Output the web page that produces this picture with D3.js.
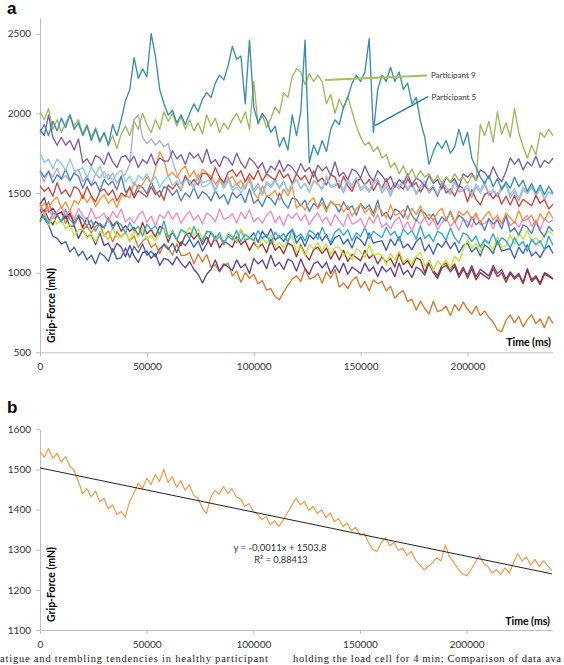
<!DOCTYPE html>
<html><head><meta charset="utf-8">
<script src="https://cdn.jsdelivr.net/npm/d3@7"></script>
<style>body{margin:0;background:#fff}svg{display:block}</style>
</head><body>
<script>
// ---------------- DATA ----------------
const timeMaxMs = 240000;
const xTicks = [0, 50000, 100000, 150000, 200000];
const yTicksA = [500, 1000, 1500, 2000, 2500];
const yTicksB = [1100, 1200, 1300, 1400, 1500, 1600];

// Panel a – grip force traces (mN), 121 samples evenly spaced over 0–240000 ms
const participant5 = [1880,1930,1860,1950,1890,1970,1910,1990,1900,1940,
1860,1920,1830,1900,1820,1880,1800,1930,1860,1960,
2080,2150,2350,2220,2280,2230,2500,2360,2150,2060,
1990,2020,1940,1990,1930,2000,2060,2010,2090,2130,
2100,2190,2240,2210,2300,2420,2340,2360,2060,2460,
2040,1940,2000,1960,1880,1920,1790,1850,1770,1990,
1860,2010,2460,1690,1800,1740,1830,1760,1900,1960,
1930,2040,2100,2190,2240,2200,2260,2470,1880,2150,
2240,2200,2290,2200,2260,2150,2190,2060,2100,1950,
1850,1680,1760,1820,1780,1830,1750,1790,1900,1800,
1880,1720,1660,1600,1560,1610,1540,1590,1520,1570,
1530,1600,1540,1580,1510,1560,1500,1550,1490,1540,
1500];
const participant9 = [2010,1960,2030,1900,1960,1880,1940,1990,1920,1960,
1870,1930,1850,1910,1830,1880,1800,1860,1780,1870,
1920,1860,1950,1900,2000,1930,1880,1960,1900,2010,
1950,2000,1920,1980,1900,1960,1890,1940,1870,1990,
1920,1970,1880,1940,1900,1960,2000,1940,2010,1900,
2200,1930,1990,1910,1970,2040,2000,2130,2100,2230,
2280,2260,2180,2250,2200,2240,2200,2060,2120,2000,
2090,2030,2110,2010,1920,1850,1800,1820,1760,1790,
1720,1740,1660,1690,1620,1670,1600,1650,1590,1640,
1600,1620,1570,1610,1560,1600,1570,1620,1580,1600,
1560,1610,1580,1930,1860,1950,1820,2010,1870,1940,
1850,2030,1880,1790,1720,1800,1740,1880,1850,1900,
1860];
const lightBlueTrace = [1755,1692,1714,1651,1713,1685,1642,1714,1641,1643,
1660,1596,1662,1618,1669,1595,1616,1577,1623,1644,
1570,1607,1544,1611,1583,1620,1567,1604,1536,1578,
1605,1548,1576,1519,1587,1565,1528,1606,1539,1547,
1570,1508,1576,1534,1587,1515,1538,1501,1549,1572,
1500,1542,1484,1556,1533,1575,1527,1569,1506,1553,
1585,1531,1562,1508,1579,1560,1526,1607,1543,1554,
1580,1519,1588,1547,1601,1530,1554,1518,1567,1591,
1520,1559,1498,1567,1541,1580,1529,1568,1502,1546,
1575,1519,1548,1492,1561,1540,1504,1583,1517,1526,
1550,1489,1558,1517,1571,1500,1524,1488,1537,1561,
1490,1528,1466,1534,1507,1545,1493,1531,1464,1507,
1500];
const purpleTrace = [1900,1860,1990,1850,1800,1850,1800,1830,1770,1840,
1690,1715,1670,1735,1720,1680,1755,1695,1660,1725,
1735,1695,1730,1660,1710,1685,1745,1675,1720,1700,
1700,1765,1715,1740,1680,1755,1720,1745,1690,1775,
1685,1710,1665,1730,1715,1675,1750,1690,1655,1720,
1695,1655,1690,1620,1670,1645,1705,1635,1680,1660,
1620,1685,1635,1660,1600,1675,1640,1665,1610,1695,
1605,1630,1585,1650,1635,1595,1670,1610,1575,1640,
1610,1570,1605,1535,1585,1560,1620,1550,1595,1575,
1545,1610,1560,1585,1525,1600,1565,1590,1535,1620,
1600,1625,1580,1645,1630,1590,1665,1605,1570,1635,
1720,1680,1715,1645,1695,1670,1730,1660,1705,1685,
1720];
const lavenderTrace = [1630,1570,1640,1600,1655,1585,1610,1575,1625,1650,
1570,1610,1550,1620,1595,1635,1585,1625,1560,1605,
1620,1680,1960,1990,1850,1810,1840,1800,1830,1790,
1810,1700,1620,1555,1600,1575,1545,1620,1565,1575,
1580,1520,1590,1550,1605,1535,1560,1525,1575,1600,
1520,1560,1500,1570,1545,1585,1535,1575,1510,1555,
1585,1530,1560,1505,1575,1555,1520,1600,1535,1545,
1560,1500,1570,1530,1585,1515,1540,1505,1555,1580,
1500,1540,1480,1550,1525,1565,1515,1555,1490,1535,
1555,1500,1530,1475,1545,1525,1490,1570,1505,1515,
1530,1470,1540,1500,1555,1485,1510,1475,1525,1550,
1470,1510,1450,1520,1495,1535,1485,1525,1460,1505,
1490];
const redTrace = [1545,1510,1535,1480,1565,1495,1520,1475,1540,1525,
1465,1540,1480,1445,1510,1525,1485,1520,1450,1500,
1480,1540,1470,1515,1495,1475,1540,1490,1515,1455,
1550,1525,1560,1515,1610,1550,1585,1550,1625,1620,
1585,1660,1600,1565,1630,1645,1605,1640,1570,1620,
1585,1645,1575,1620,1600,1580,1645,1595,1620,1560,
1620,1585,1610,1555,1640,1570,1595,1550,1615,1600,
1530,1605,1545,1510,1575,1590,1550,1585,1515,1565,
1530,1590,1520,1565,1545,1525,1590,1540,1565,1505,
1550,1515,1540,1485,1570,1500,1525,1480,1545,1530,
1445,1520,1460,1425,1490,1505,1465,1500,1430,1480,
1425,1485,1415,1460,1440,1420,1485,1435,1460,1400,
1430];
const orangeTrace = [1410,1435,1400,1450,1475,1405,1445,1385,1455,1430,
1490,1440,1480,1415,1460,1490,1435,1465,1410,1480,
1485,1470,1570,1525,1555,1600,1560,1650,1760,1705,
1605,1630,1595,1645,1670,1600,1640,1580,1650,1625,
1605,1555,1595,1530,1575,1605,1550,1580,1525,1595,
1500,1465,1545,1480,1490,1515,1455,1525,1485,1540,
1405,1430,1395,1445,1470,1400,1440,1380,1450,1425,
1430,1380,1420,1355,1400,1430,1375,1405,1350,1420,
1380,1345,1425,1360,1370,1395,1335,1405,1365,1420,
1340,1365,1330,1380,1405,1335,1375,1315,1385,1360,
1385,1335,1375,1310,1355,1385,1330,1360,1305,1375,
1345,1310,1390,1325,1335,1360,1300,1370,1330,1385,
1340];
const blueTrace = [1640,1600,1635,1565,1615,1590,1650,1580,1625,1605,
1530,1595,1545,1570,1510,1585,1550,1575,1520,1605,
1505,1530,1485,1550,1535,1495,1570,1510,1475,1540,
1525,1485,1520,1450,1500,1475,1535,1465,1510,1490,
1450,1515,1465,1490,1430,1505,1470,1495,1440,1525,
1435,1460,1415,1480,1465,1425,1500,1440,1405,1470,
1460,1420,1455,1385,1435,1410,1470,1400,1445,1425,
1380,1445,1395,1420,1360,1435,1400,1425,1370,1455,
1355,1380,1335,1400,1385,1345,1420,1360,1325,1390,
1375,1335,1370,1300,1350,1325,1385,1315,1360,1340,
1285,1350,1300,1325,1265,1340,1305,1330,1275,1360,
1255,1280,1235,1300,1285,1245,1320,1260,1225,1290,
1260];
const pinkTrace = [1415,1365,1405,1340,1385,1415,1360,1390,1335,1405,
1360,1325,1405,1340,1350,1375,1315,1385,1345,1400,
1320,1345,1310,1360,1385,1315,1355,1295,1365,1340,
1385,1335,1375,1310,1355,1385,1330,1360,1305,1375,
1355,1320,1400,1335,1345,1370,1310,1380,1340,1395,
1320,1345,1310,1360,1385,1315,1355,1295,1365,1340,
1375,1325,1365,1300,1345,1375,1320,1350,1295,1365,
1325,1290,1370,1305,1315,1340,1280,1350,1310,1365,
1285,1310,1275,1325,1350,1280,1320,1260,1330,1305,
1345,1295,1335,1270,1315,1345,1290,1320,1265,1335,
1320,1285,1365,1300,1310,1335,1275,1345,1305,1360,
1295,1320,1285,1335,1360,1290,1330,1270,1340,1315,
1330];
const cyanTrace = [1330,1355,1310,1375,1360,1320,1395,1335,1300,1365,
1335,1295,1330,1260,1310,1285,1345,1275,1320,1300,
1250,1315,1265,1290,1230,1305,1270,1295,1240,1325,
1225,1250,1205,1270,1255,1215,1290,1230,1195,1260,
1255,1215,1250,1180,1230,1205,1265,1195,1240,1220,
1200,1265,1215,1240,1180,1255,1220,1245,1190,1275,
1220,1245,1200,1265,1250,1210,1285,1225,1190,1255,
1275,1235,1270,1200,1250,1225,1285,1215,1260,1240,
1220,1285,1235,1260,1200,1275,1240,1265,1210,1295,
1215,1240,1195,1260,1245,1205,1280,1220,1185,1250,
1235,1195,1230,1160,1210,1185,1245,1175,1220,1200,
1155,1220,1170,1195,1135,1210,1175,1200,1145,1230,
1170];
const limeTrace = [1360,1380,1300,1350,1305,1335,1275,1305,1230,1270,
1270,1215,1245,1190,1260,1240,1205,1285,1220,1230,
1255,1195,1265,1225,1280,1210,1235,1200,1250,1275,
1220,1260,1200,1270,1245,1285,1235,1275,1210,1255,
1260,1205,1235,1180,1250,1230,1195,1275,1210,1220,
1210,1150,1220,1180,1235,1165,1190,1155,1205,1230,
1125,1165,1105,1175,1150,1190,1140,1180,1115,1160,
1160,1105,1135,1080,1150,1130,1095,1175,1110,1120,
1110,1050,1120,1080,1135,1065,1090,1055,1105,1130,
1040,1075,1010,1075,1045,1080,1025,1105,1070,1145,
1210,1155,1185,1130,1200,1180,1145,1225,1160,1170,
1240,1180,1250,1210,1265,1195,1220,1185,1235,1260,
1240];
const darkRedTrace = [1320,1395,1335,1300,1365,1380,1340,1375,1305,1355,
1285,1345,1275,1320,1300,1280,1345,1295,1320,1260,
1295,1260,1285,1230,1315,1245,1270,1225,1290,1275,
1190,1265,1205,1170,1235,1250,1210,1245,1175,1225,
1165,1225,1155,1200,1180,1160,1225,1175,1200,1140,
1190,1155,1180,1125,1210,1140,1165,1120,1185,1170,
1100,1175,1115,1080,1145,1160,1120,1155,1085,1135,
1080,1140,1070,1115,1095,1075,1140,1090,1115,1055,
1100,1065,1090,1035,1120,1050,1075,1030,1095,1080,
1000,1075,1015,980,1045,1060,1020,1055,985,1035,
965,1025,955,1000,980,960,1025,975,1000,940,
995,960,985,930,1015,945,970,925,990,975,
960];
const darkBlueTrace = [1400,1340,1300,1230,1215,1180,1195,1130,1160,1105,
1135,1080,1110,1055,1125,1105,1070,1150,1085,1095,
1155,1095,1165,1125,1180,1110,1135,1100,1150,1175,
1145,1185,1125,1195,1170,1210,1160,1200,1135,1180,
1255,1200,1230,1175,1245,1225,1190,1270,1205,1215,
1250,1190,1260,1220,1275,1205,1230,1195,1245,1270,
1185,1225,1165,1235,1210,1250,1200,1240,1175,1220,
1235,1180,1210,1155,1225,1205,1170,1250,1185,1195,
1200,1140,1210,1170,1225,1155,1180,1145,1195,1220,
1135,1175,1115,1185,1160,1200,1150,1190,1125,1170,
1185,1130,1160,1105,1175,1155,1120,1200,1135,1145,
1150,1090,1160,1120,1175,1105,1130,1095,1145,1170,
1120];
const darkPurpleTrace = [1430,1470,1380,1405,1365,1320,1360,1290,1295,1215,
1270,1225,1240,1175,1250,1170,1185,1130,1185,1160,
1100,1170,1105,1065,1125,1135,1090,1120,1045,1090,
1080,1050,1100,1060,1030,1070,1020,990,935,990,
1020,1080,1010,1055,1035,1015,1080,1030,1055,995,
1090,1055,1080,1025,1110,1040,1065,1020,1085,1070,
1010,1085,1025,990,1055,1070,1030,1065,995,1045,
1000,1060,990,1035,1015,995,1060,1010,1035,975,
1040,1005,1030,975,1060,990,1015,970,1035,1020,
985,1060,1000,965,1030,1045,1005,1040,970,1020,
985,1045,975,1020,1000,980,1045,995,1020,960,
1005,970,995,940,1025,955,980,935,1000,985,
960];
const darkOrangeTrace = [1425,1378,1446,1369,1367,1380,1308,1366,1314,1357,
1275,1292,1249,1291,1308,1230,1262,1194,1256,1223,
1255,1198,1231,1159,1197,1220,1158,1181,1119,1182,
1155,1111,1182,1108,1109,1125,1056,1117,1068,1114,
1035,1050,1005,1045,1060,980,1010,940,1000,965,
990,930,950,890,900,850,830,880,920,960,
980,945,1025,960,970,995,935,1005,965,1020,
910,935,900,950,975,905,945,885,955,930,
945,885,915,840,871,887,818,834,765,821,
775,740,820,755,765,790,730,800,760,815,
770,740,790,730,760,720,690,640,630,700,
735,685,725,660,705,735,680,710,655,725,
680];

// Panel b – single participant trace (mN) and its linear trend
const singleTrace = [1545,1530,1552,1528,1540,1518,1532,1508,1498,1470,
1440,1452,1432,1446,1420,1428,1402,1412,1388,1395,
1382,1420,1440,1466,1452,1478,1462,1488,1470,1500,
1468,1482,1456,1472,1448,1462,1436,1428,1405,1390,
1430,1448,1438,1458,1440,1452,1432,1426,1408,1415,
1395,1388,1375,1382,1362,1372,1358,1374,1392,1410,
1428,1412,1420,1398,1408,1390,1400,1380,1392,1370,
1378,1358,1366,1348,1356,1336,1340,1318,1300,1296,
1318,1330,1310,1318,1298,1304,1286,1296,1275,1262,
1250,1258,1268,1280,1272,1312,1282,1268,1252,1240,
1235,1250,1268,1286,1266,1258,1242,1250,1238,1255,
1242,1268,1290,1272,1282,1262,1276,1258,1272,1260,
1248];
const trendSlope = -0.0011;
const trendIntercept = 1503.8;
const trendEquation = "y = -0,0011x + 1503,8";
const trendR2 = "R² = 0,88413";

// Series listing for panel a (draw order: first = bottom)
const seriesNamesA = ["lavender","darkOrange","darkPurple","darkBlue","darkRed","lime","cyan","pink","blue","orange","red","lightBlue","purple","Participant 9","Participant 5"];
const seriesValuesA = [lavenderTrace,darkOrangeTrace,darkPurpleTrace,darkBlueTrace,darkRedTrace,limeTrace,cyanTrace,pinkTrace,blueTrace,orangeTrace,redTrace,lightBlueTrace,purpleTrace,participant9,participant5];

// Annotation anchor points (data space): [time, force]
const p9Leader = [[133300, 2209], [181000, 2237]];
const p5Leader = [[156700, 1923], [181500, 2105]];

// ---------------- STYLES ----------------
const seriesColors = {
  darkOrange:"#d9792c", darkPurple:"#5e4190", darkBlue:"#3a62ad", darkRed:"#a3302f",
  lime:"#bde33f", cyan:"#2fa6d6", pink:"#f08bc3", blue:"#4a7fc1", orange:"#f7923a",
  red:"#c9463d", lavender:"#b4a8d4", lightBlue:"#8ccbe3", purple:"#7b5ca8",
  "Participant 9":"#9bbb59", "Participant 5":"#3b8db0"
};
const FONT = "Lato, 'Open Sans', sans-serif";

// ---------------- DRAW ----------------
const svg = d3.select("body").append("svg").attr("width",564).attr("height",665);
svg.append("rect").attr("width",564).attr("height",665).attr("fill","#fff");

function toPoints(vals){ return vals.map((v,i)=>[i*timeMaxMs/(vals.length-1), v]); }

function styleAxis(g){
  g.select(".domain").attr("stroke","#bfbfbf");
  g.selectAll(".tick line").attr("stroke","#bfbfbf");
  g.selectAll(".tick text").attr("fill","#333").attr("font-family",FONT).attr("font-size","10px");
}

function drawAxes(x, y, yTicks){
  const bottom = y.range()[0];
  svg.append("g").attr("transform",`translate(0,${bottom})`)
    .call(d3.axisBottom(x).tickValues(xTicks).tickSize(4).tickSizeOuter(0).tickPadding(7).tickFormat(d3.format("d")))
    .call(styleAxis);
  svg.append("g").attr("transform",`translate(${x.range()[0]},0)`)
    .call(d3.axisLeft(y).tickValues(yTicks).tickSize(4).tickSizeOuter(0).tickPadding(5).tickFormat(d3.format("d")))
    .call(styleAxis);
}

function axisTitles(x, y, gripBottom, timeBaseline){
  svg.append("text").attr("transform",`translate(54.5,${gripBottom}) rotate(-90)`)
    .attr("font-family",FONT).attr("font-weight","bold").attr("font-size","10.5px").attr("fill","#000")
    .text("Grip-Force (mN)");
  svg.append("text").attr("x",x.range()[1]-2).attr("y",timeBaseline).attr("text-anchor","end")
    .attr("font-family",FONT).attr("font-weight","bold").attr("font-size","10.5px").attr("fill","#000")
    .text("Time (ms)");
}

// Panel a
const xA = d3.scaleLinear().domain([0,timeMaxMs]).range([40,553]);
const yA = d3.scaleLinear().domain([500,2600]).range([352.3,17.8]);
const lineA = d3.line().x(d=>xA(d[0])).y(d=>yA(d[1]));

drawAxes(xA, yA, yTicksA);

svg.append("g").selectAll("path").data(seriesNamesA.map((n,i)=>({name:n, pts:toPoints(seriesValuesA[i])})))
  .join("path")
  .attr("d", d=>lineA(d.pts))
  .attr("fill","none")
  .attr("stroke", d=>seriesColors[d.name])
  .attr("stroke-width",1.35)
  .attr("stroke-linejoin","round");

axisTitles(xA, yA, 343, 345.5);

// leader lines and labels
svg.append("path").attr("d", lineA(p9Leader)).attr("stroke","#a3c05e").attr("stroke-width",2).attr("fill","none");
svg.append("path").attr("d", lineA(p5Leader)).attr("stroke","#2f7f9c").attr("stroke-width",1.6).attr("fill","none");
svg.append("text").attr("x", xA(p9Leader[1][0])+4).attr("y", yA(p9Leader[1][1])+2.7)
  .attr("font-family",FONT).attr("font-size","8px").attr("fill","#333").text("Participant 9");
svg.append("text").attr("x", xA(p5Leader[1][0])+3.5).attr("y", yA(p5Leader[1][1])+3)
  .attr("font-family",FONT).attr("font-size","8px").attr("fill","#333").text("Participant 5");

svg.append("text").attr("x",7).attr("y",13.5).attr("font-family","'Liberation Sans', Arial, sans-serif")
  .attr("font-weight","bold").attr("font-size","17px").attr("fill","#000").text("a");

// Panel b
const xB = d3.scaleLinear().domain([0,timeMaxMs]).range([40,552]);
const yB = d3.scaleLinear().domain([1100,1600]).range([630,429.3]);
const lineB = d3.line().x(d=>xB(d[0])).y(d=>yB(d[1]));

drawAxes(xB, yB, yTicksB);

svg.append("path").attr("d", lineB(toPoints(singleTrace)))
  .attr("fill","none").attr("stroke","#f39a4a").attr("stroke-width",1.2).attr("stroke-linejoin","round");

svg.append("path").attr("d", lineB([[0, trendIntercept],[timeMaxMs, trendIntercept + trendSlope*timeMaxMs]]))
  .attr("fill","none").attr("stroke","#222").attr("stroke-width",1);

svg.append("text").attr("x",280).attr("y",550.5).attr("text-anchor","middle")
  .attr("font-family",FONT).attr("font-size","9.5px").attr("fill","#333").text(trendEquation);
svg.append("text").attr("x",281).attr("y",562.5).attr("text-anchor","middle")
  .attr("font-family",FONT).attr("font-size","9.3px").attr("fill","#333").text(trendR2);

axisTitles(xB, yB, 622, 624.5);

svg.append("text").attr("x",7).attr("y",413).attr("font-family","'Liberation Sans', Arial, sans-serif")
  .attr("font-weight","bold").attr("font-size","17px").attr("fill","#000").text("b");

// caption fragment at bottom (kept fully inside the picture)
svg.append("text").attr("x",0).attr("y",662).attr("font-family","'Liberation Serif', 'Times New Roman', serif")
  .attr("font-size","10.5px").attr("fill","#222").attr("textLength",268).attr("lengthAdjust","spacing")
  .text("atigue and trembling tendencies in healthy participant");
svg.append("text").attr("x",293).attr("y",662).attr("font-family","'Liberation Serif', 'Times New Roman', serif")
  .attr("font-size","10.5px").attr("fill","#222").attr("textLength",268).attr("lengthAdjust","spacing")
  .text("holding the load cell for 4 min; Comparison of data ava");
</script>
</body></html>
